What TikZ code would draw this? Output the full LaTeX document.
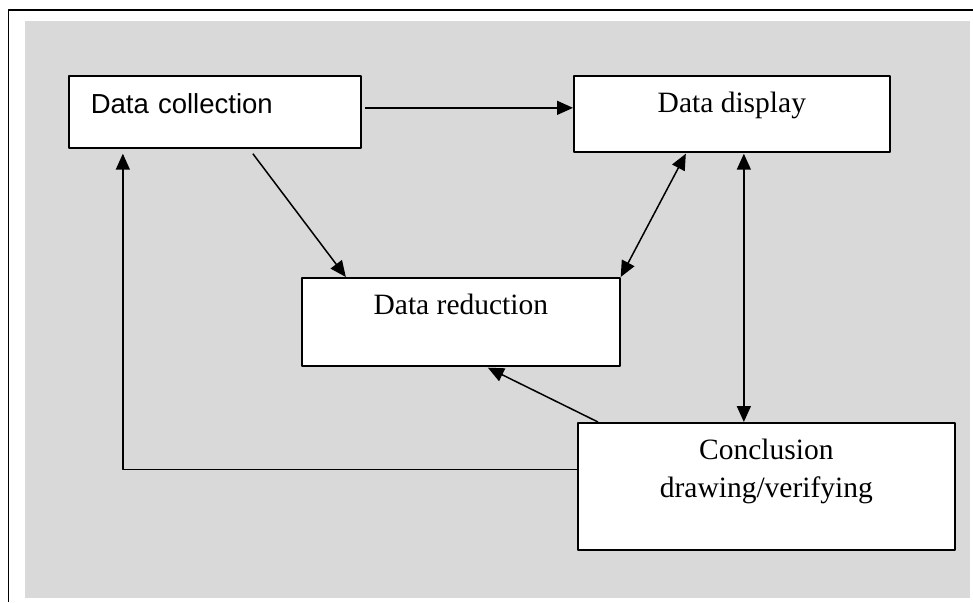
\documentclass[tikz,border=0pt]{standalone}
\usepackage{fontspec}
\setmainfont{Liberation Serif}
\setsansfont{Liberation Sans}
\usetikzlibrary{arrows.meta}
\definecolor{panel}{HTML}{D9D9D9}
\begin{document}
\begin{tikzpicture}[x=1pt,y=-1pt,line join=round,
 box/.style={draw,fill=white,line width=1.7pt,inner xsep=0pt,inner ysep=0pt,anchor=north west,
  font=\fontsize{29.5}{38}\selectfont},
 arr/.style={line width=1.5pt,-{Triangle[length=16pt,width=14pt]}},
 arrs/.style={line width=1.5pt,{Triangle[length=16pt,width=14pt]}-{Triangle[length=16pt,width=14pt]}}]
 \useasboundingbox (0,0) rectangle (973,602);
 % frame and grey panel
 \fill[panel] (25,21) rectangle (970,598);
 \draw[line width=1.8pt] (8.5,602) -- (8.5,10) -- (973,10);
 % boxes
 \node[box,font=\sffamily\fontsize{27.5}{34}\selectfont,text width=248pt,inner xsep=22pt,align=left,
  text height=38pt,text depth=34pt] (collect) at (68,75) {Data collection};
 \node[box,minimum width=316pt,text height=37pt,text depth=39pt] (display) at (573,75) {Data display};
 \node[box,minimum width=318pt,text height=37pt,text depth=51pt] (reduce) at (301,277) {Data reduction};
 \node[box,text width=377pt,align=center,text height=37pt,text depth=90pt] (concl) at (577,422)
  {Conclusion\\ drawing/verifying};
 % arrows
 \draw[arr] ([shift={(3pt,4pt)}]collect.east) -- ([yshift=4pt]collect.east -| display.west);
 \draw[arr] ([shift={(38pt,-5pt)}]collect.south) -- ([xshift=-115pt]reduce.north);
 \draw[arrs] (reduce.north east) -- ([shift={(-46pt,-1pt)}]display.south);
 \draw[arrs] ([shift={(12pt,-1pt)}]display.south) -- ([xshift=12pt]display.south |- concl.north);
 \draw[arr] ([xshift=21pt]concl.north west) -- ([shift={(27pt,-1pt)}]reduce.south);
 \draw[arr] ([yshift=17pt]concl.west) -| ([shift={(-92pt,-5pt)}]collect.south);
\end{tikzpicture}
\end{document}
